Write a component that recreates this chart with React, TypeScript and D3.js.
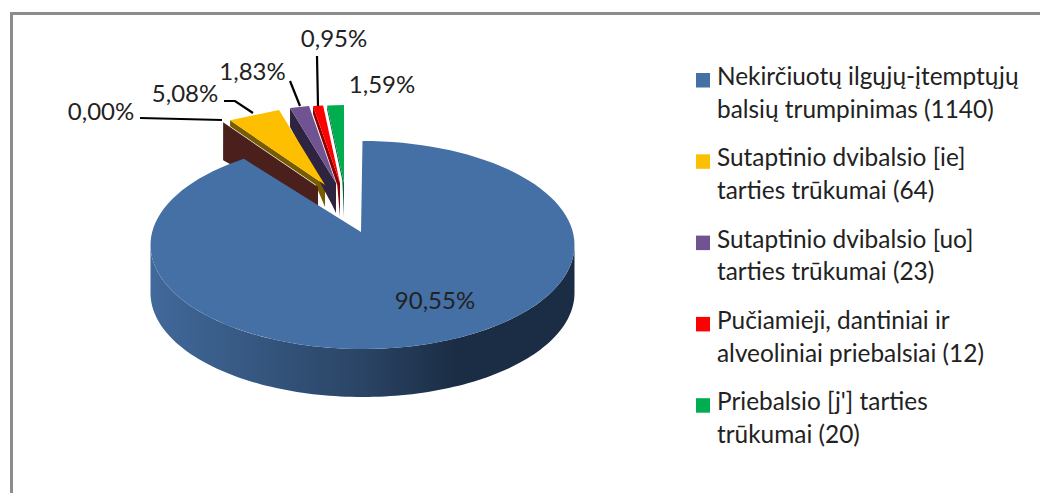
import React from "react";
import * as d3 from "d3";

const categories = [
  ["Nekirčiuotų ilgųjų-įtemptųjų", "balsių trumpinimas (1140)"],
  ["Sutaptinio dvibalsio [ie]", "tarties trūkumai (64)"],
  ["Sutaptinio dvibalsio [uo]", "tarties trūkumai (23)"],
  ["Pučiamieji, dantiniai ir", "alveoliniai priebalsiai (12)"],
  ["Priebalsio [j'] tarties", "trūkumai (20)"],
];
const pieValues = [1140, 0, 64, 23, 12, 20];
const pieLabels = ["90,55%", "0,00%", "5,08%", "1,83%", "0,95%", "1,59%"];
const topColors = ["#4470a6", "#4a1f1c", "#fdbf00", "#705492", "#fe0000", "#00ae50"];
const wallColors = ["#2a4464", "#4a1f1c", "#7a5c00", "#2f2440", "#8e0000", "#00603a"];
const legendColors = ["#4470a6", "#fdbf00", "#705492", "#fe0000", "#00ae50"];
const FONT = "Lato, 'Open Sans', sans-serif";

const cx = 362.5, cy = 245, rx = 212, ry = 104, depth = 48;
const mainApex: [number, number] = [361, 232];
const apexes: [number, number][] = [mainApex, [318, 187], [325, 185], [336, 183], [340, 183], [344, 183]];
const outerDepth = [0, 38, 6, 19, 8, 4];
const kneeDepth = [0, 26, 6, 28, 10, 5];
const apexDepth = [0, 24, 22, 30, 34, 34];
const wallOrder = [2, 1, 3, 4, 5];
const sx = 0.8, sy = 0.75;
const labelPos: [number, number][] = [[435, 309], [101, 120], [185, 102], [252.5, 80], [334, 47], [382, 93]];
const leaders: [number, number][][] = [
  [], [[140, 118], [222, 120]], [[224, 101], [235, 101], [253, 113]],
  [[290, 81], [300, 106]], [[317, 56], [318, 106]], [],
];

const pie = d3.pie<number>().sort(null)(pieValues);
const ell = (t: number): [number, number] => [cx + rx * Math.sin(t), cy - ry * Math.cos(t)];
const line = d3.line();

function App() {
  const arcPts = d3.range(0, 121).map((i) => ell(pie[0].startAngle + ((pie[0].endAngle - pie[0].startAngle) * i) / 120));
  const front = d3.range(0, 121).map((i) => ell(Math.PI / 2 + (Math.PI * i) / 120));
  const frontBottom = front.map(([x, y]) => [x, y + depth] as [number, number]).reverse();
  const explodedPt = (i: number, t: number): [number, number] => {
    const [ax, ay] = apexes[i];
    const [ex, ey] = ell(t);
    return [ax + sx * (ex - cx), ay + sy * (ey - cy)];
  };
  return (
    <svg width={1040} height={493} style={{ position: "absolute", left: 0, top: 0, background: "#fff" }} fontFamily={FONT}>
      <defs>
        <linearGradient id="wall" gradientUnits="userSpaceOnUse" x1={150} x2={575} y1={0} y2={0}>
          <stop offset="0" stopColor="#41699b" />
          <stop offset="0.5" stopColor="#2a4464" />
          <stop offset="0.72" stopColor="#1b2d44" />
          <stop offset="1" stopColor="#1b2d44" />
        </linearGradient>
      </defs>
      <path d="M11.5,493V13.5H1040" fill="none" stroke="#8c8c8c" strokeWidth={3} />
      {wallOrder.map((i) => {
        const d = pie[i];
        const [ax, ay] = apexes[i];
        const a = explodedPt(i, d.startAngle);
        const knee: [number, number] = [a[0] + 0.9 * (ax - a[0]), a[1] + 0.9 * (ay - a[1]) + kneeDepth[i]];
        const wall: [number, number][] = [a, [a[0], a[1] + outerDepth[i]], knee, [ax, ay + apexDepth[i]], [ax, ay]];
        return <path key={i} d={line(wall) + "Z"} fill={wallColors[i]} />;
      })}
      {pie.slice(1).map((d, k) => {
        const i = k + 1;
        if (d.endAngle <= d.startAngle) return null;
        const [ax, ay] = apexes[i];
        const top: [number, number][] = [[ax, ay], explodedPt(i, d.startAngle), explodedPt(i, d.endAngle)];
        return <path key={i} d={line(top) + "Z"} fill={topColors[i]} />;
      })}
      <path d={line([...front, ...frontBottom]) + "Z"} fill="url(#wall)" />
      <path d={line([mainApex, ...arcPts]) + "Z"} fill={topColors[0]} />
      {leaders.map((l, i) => l.length > 0 && <path key={i} d={line(l) ?? ""} fill="none" stroke="#000" strokeWidth={2.2} />)}
      {pieLabels.map((t, i) => (
        <text key={t} x={labelPos[i][0]} y={labelPos[i][1]} textAnchor="middle" fontSize={24} fill="#222">{t}</text>
      ))}
      {categories.map((lines, i) => {
        const y0 = 85 + i * 81.3;
        return (
          <g key={i}>
            <rect x={696} y={y0 - 12} width={14} height={14.5} fill={legendColors[i]} />
            {lines.map((s, j) => (
              <text key={j} x={717} y={y0 + j * 32.7} fontSize={24.4} fill="#222">{s}</text>
            ))}
          </g>
        );
      })}
    </svg>
  );
}

export default App;
